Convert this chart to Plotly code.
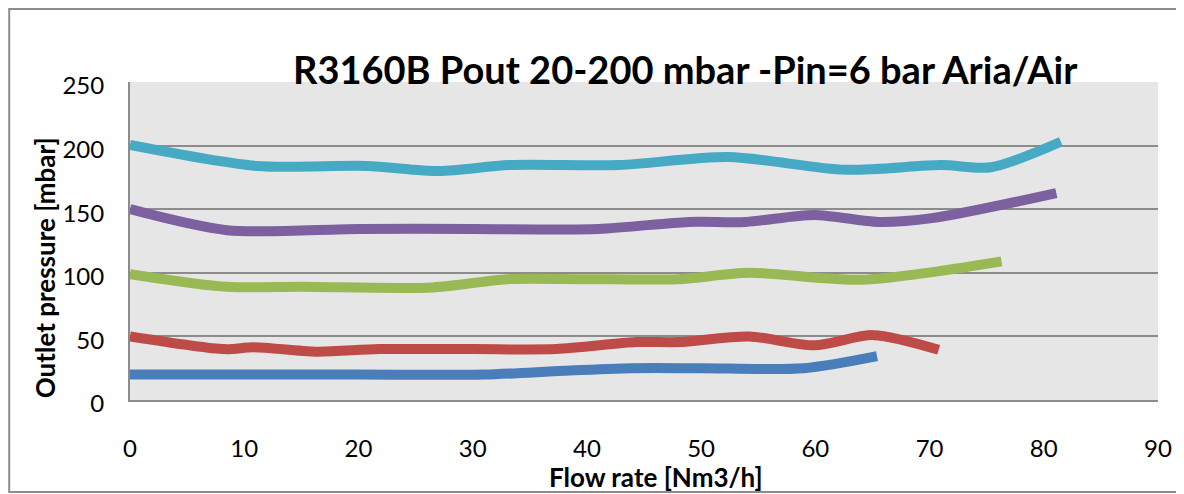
import plotly.graph_objects as go

# Data (Flow rate [Nm3/h] vs Outlet pressure [mbar])
x_20 = [0, 10, 20, 31, 38, 44, 50, 59, 65.4]
y_20 = [20, 20, 20, 20, 23, 25, 25, 25, 34.5]

x_50 = [0, 8.3, 10.8, 16.3, 21.8, 30, 37.3, 44.3, 48, 54.2, 59.9, 65.1, 70.8]
y_50 = [50, 40, 41.5, 38, 40, 40, 40, 45.5, 45.5, 50, 43, 51, 39.5]

x_100 = [0, 8.5, 15, 26.5, 33, 40, 48, 54.2, 64, 76.3]
y_100 = [99, 89, 89, 88.5, 95, 95, 95, 100, 94.5, 109]

x_150 = [0, 8.5, 20, 30, 41, 48.9, 53.9, 59.9, 65.5, 70.2, 81.1]
y_150 = [150, 133.5, 134.5, 134.5, 134.5, 140, 140, 145.5, 140, 143, 162.7]

x_200 = [0, 11.1, 20.7, 27.1, 33.2, 42.8, 52.4, 62.6, 71, 75.4, 81.5]
y_200 = [200.5, 184, 184, 180, 184.7, 184.7, 191, 181, 184.7, 183, 203]

series = [
    (x_20, y_20, "#4a7ebb"),
    (x_50, y_50, "#be4b48"),
    (x_100, y_100, "#98b954"),
    (x_150, y_150, "#7d60a0"),
    (x_200, y_200, "#46aac5"),
]

x_ticks = [0, 10, 20, 30, 40, 50, 60, 70, 80, 90]
y_ticks = [0, 50, 100, 150, 200, 250]

title_text = "R3160B Pout 20-200 mbar -Pin=6 bar Aria/Air"
x_title = "Flow rate [Nm3/h]"
y_title = "Outlet pressure [mbar]"

fig = go.Figure()
for xs, ys, col in series:
    fig.add_trace(go.Scatter(
        x=xs, y=ys, mode="lines",
        line=dict(color=col, width=10, shape="spline", smoothing=0.8),
        showlegend=False, hoverinfo="skip",
    ))

FONT = "Lato, Carlito, Calibri, sans-serif"

# page body has an 8px margin, so the figure is sized to fill the rest
fig.update_layout(
    width=1176, height=486,
    margin=dict(l=122, r=24, t=74, b=94),
    paper_bgcolor="white",
    plot_bgcolor="#e6e6e6",
    font=dict(family=FONT, size=24, color="black"),
    showlegend=False,
)

fig.update_xaxes(
    range=[0, 90], tickvals=x_ticks, ticktext=[str(v) for v in x_ticks],
    showgrid=False, zeroline=False,
    showline=True, linecolor="#8c8c8c", linewidth=2,
    ticks="outside", ticklen=26, tickcolor="rgba(0,0,0,0)",
    tickfont=dict(family=FONT, size=24, color="black"),
)
fig.update_yaxes(
    range=[0, 250], tickvals=y_ticks, ticktext=[str(v) for v in y_ticks],
    showgrid=True, gridcolor="#8c8c8c", gridwidth=2, zeroline=False,
    showline=True, linecolor="#8c8c8c", linewidth=2,
    ticks="outside", ticklen=19, tickcolor="rgba(0,0,0,0)",
    ticklabelshift=4,
    tickfont=dict(family=FONT, size=24, color="black"),
)

# Outer chart border
fig.add_shape(type="rect", xref="paper", yref="paper",
              x0=-0.1175, x1=1.0252, y0=-0.2893, y1=1.2296,
              line=dict(color="#8c8c8c", width=2), fillcolor="rgba(0,0,0,0)",
              layer="below")

fig.add_annotation(
    text="<b>" + title_text + "</b>", xref="paper", yref="paper",
    x=0.54, y=1.0, xanchor="center", yanchor="bottom", yshift=-12,
    showarrow=False, font=dict(family=FONT, size=38, color="black"),
)
fig.add_annotation(
    text="<b>" + x_title + "</b>", xref="paper", yref="paper",
    x=0.5117, y=-0.242, xanchor="center", yanchor="middle",
    showarrow=False, font=dict(family=FONT, size=26, color="black"),
)
fig.add_annotation(
    text="<b>" + y_title + "</b>", xref="paper", yref="paper",
    x=-0.0825, y=0.415, xanchor="center", yanchor="middle", textangle=-90,
    showarrow=False, font=dict(family=FONT, size=26, color="black"),
)

fig.write_html("out.html")
